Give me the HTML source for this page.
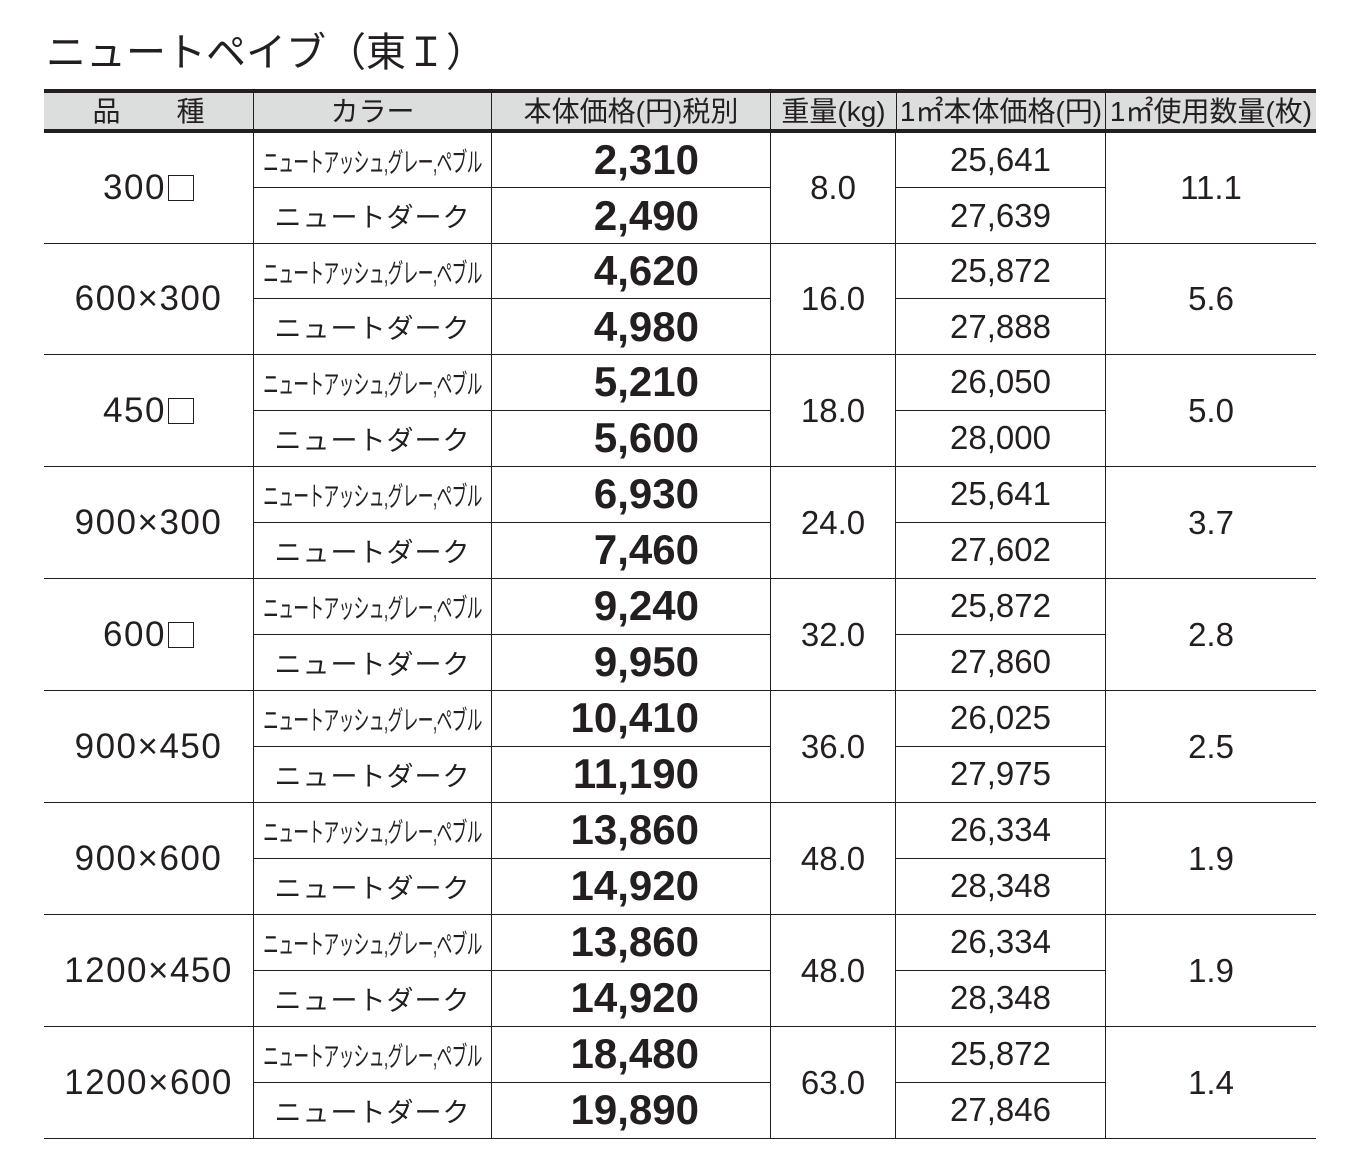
<!DOCTYPE html>
<html><head><meta charset="utf-8"><style>
body{margin:0;width:1354px;height:1168px;background:#fff;position:relative;overflow:hidden;font-family:"Liberation Sans","Noto Sans CJK JP",sans-serif;color:#231f20}
.a{position:absolute}
.title{left:46px;top:28px;font-size:40px;line-height:50px;white-space:nowrap}
.hdr{left:44px;top:89px;width:1272px;height:44px;background:#dcdddd;border-top:4px solid #231f20;border-bottom:4px solid #231f20;box-sizing:border-box}
.h{position:absolute;top:0;height:36px;line-height:38px;text-align:center;font-size:28px;white-space:nowrap;border-left:1.5px solid #231f20;box-sizing:border-box}
.g{position:absolute;left:44px;width:1272px;border-bottom:1.5px solid #231f20;box-sizing:border-box}
.g>div{position:absolute;box-sizing:border-box;text-align:center;white-space:nowrap}
.sz{left:0;width:209px;top:0;bottom:0;display:flex;align-items:center;justify-content:center;font-size:35px;letter-spacing:1.5px}
.c{left:209px;width:238px;height:50%;border-left:1.5px solid #231f20;display:flex;align-items:center;justify-content:center}
.t{top:0;border-bottom:1.5px solid #231f20}
.b{top:50%}
.p{left:447px;width:279px;height:50%;border-left:1.5px solid #231f20;display:flex;align-items:center;justify-content:flex-end;padding-right:71px;font-weight:bold;font-size:42px}
.w{left:726px;width:126px;top:0;bottom:0;border-left:1.5px solid #231f20;border-right:1.5px solid #231f20;display:flex;align-items:center;justify-content:center;font-size:33px}
.m{left:852px;width:209px;height:50%;display:flex;align-items:center;justify-content:center;font-size:33px}
.q{left:1061px;width:211px;top:0;bottom:0;border-left:1.5px solid #231f20;display:flex;align-items:center;justify-content:center;font-size:33px}
.c1 span{display:inline-block;font-size:27px;transform:scaleX(0.58);letter-spacing:-1px}
.c2{font-size:27px;letter-spacing:1px}
.sq{display:inline-block;width:24px;height:24px;border:1.5px solid #231f20;margin-left:2px;vertical-align:-2px}
</style></head><body>
<div class="a title">ニュートペイブ（東Ｉ）</div>
<div class="a hdr">
<div class="h" style="left:0;width:209px;border-left:none">品　　種</div>
<div class="h" style="left:209px;width:238px">カラー</div>
<div class="h" style="left:447px;width:279px">本体価格(円)税別</div>
<div class="h" style="left:726px;width:126px">重量(kg)</div>
<div class="h" style="left:852px;width:209px">1㎡本体価格(円)</div>
<div class="h" style="left:1061px;width:211px">1㎡使用数量(枚)</div>
</div>

<div class="g" style="top:133px;height:111px"><div class="sz">300<span class="sq"></span></div><div class="c t c1"><span>ニュートアッシュ,グレー,ペブル</span></div><div class="c b c2">ニュートダーク</div><div class="p t">2,310</div><div class="p b">2,490</div><div class="w">8.0</div><div class="m t">25,641</div><div class="m b">27,639</div><div class="q">11.1</div></div>
<div class="g" style="top:244px;height:111px"><div class="sz">600×300</div><div class="c t c1"><span>ニュートアッシュ,グレー,ペブル</span></div><div class="c b c2">ニュートダーク</div><div class="p t">4,620</div><div class="p b">4,980</div><div class="w">16.0</div><div class="m t">25,872</div><div class="m b">27,888</div><div class="q">5.6</div></div>
<div class="g" style="top:355px;height:112px"><div class="sz">450<span class="sq"></span></div><div class="c t c1"><span>ニュートアッシュ,グレー,ペブル</span></div><div class="c b c2">ニュートダーク</div><div class="p t">5,210</div><div class="p b">5,600</div><div class="w">18.0</div><div class="m t">26,050</div><div class="m b">28,000</div><div class="q">5.0</div></div>
<div class="g" style="top:467px;height:112px"><div class="sz">900×300</div><div class="c t c1"><span>ニュートアッシュ,グレー,ペブル</span></div><div class="c b c2">ニュートダーク</div><div class="p t">6,930</div><div class="p b">7,460</div><div class="w">24.0</div><div class="m t">25,641</div><div class="m b">27,602</div><div class="q">3.7</div></div>
<div class="g" style="top:579px;height:112px"><div class="sz">600<span class="sq"></span></div><div class="c t c1"><span>ニュートアッシュ,グレー,ペブル</span></div><div class="c b c2">ニュートダーク</div><div class="p t">9,240</div><div class="p b">9,950</div><div class="w">32.0</div><div class="m t">25,872</div><div class="m b">27,860</div><div class="q">2.8</div></div>
<div class="g" style="top:691px;height:112px"><div class="sz">900×450</div><div class="c t c1"><span>ニュートアッシュ,グレー,ペブル</span></div><div class="c b c2">ニュートダーク</div><div class="p t">10,410</div><div class="p b">11,190</div><div class="w">36.0</div><div class="m t">26,025</div><div class="m b">27,975</div><div class="q">2.5</div></div>
<div class="g" style="top:803px;height:112px"><div class="sz">900×600</div><div class="c t c1"><span>ニュートアッシュ,グレー,ペブル</span></div><div class="c b c2">ニュートダーク</div><div class="p t">13,860</div><div class="p b">14,920</div><div class="w">48.0</div><div class="m t">26,334</div><div class="m b">28,348</div><div class="q">1.9</div></div>
<div class="g" style="top:915px;height:112px"><div class="sz">1200×450</div><div class="c t c1"><span>ニュートアッシュ,グレー,ペブル</span></div><div class="c b c2">ニュートダーク</div><div class="p t">13,860</div><div class="p b">14,920</div><div class="w">48.0</div><div class="m t">26,334</div><div class="m b">28,348</div><div class="q">1.9</div></div>
<div class="g" style="top:1027px;height:112px"><div class="sz">1200×600</div><div class="c t c1"><span>ニュートアッシュ,グレー,ペブル</span></div><div class="c b c2">ニュートダーク</div><div class="p t">18,480</div><div class="p b">19,890</div><div class="w">63.0</div><div class="m t">25,872</div><div class="m b">27,846</div><div class="q">1.4</div></div>
</body></html>
